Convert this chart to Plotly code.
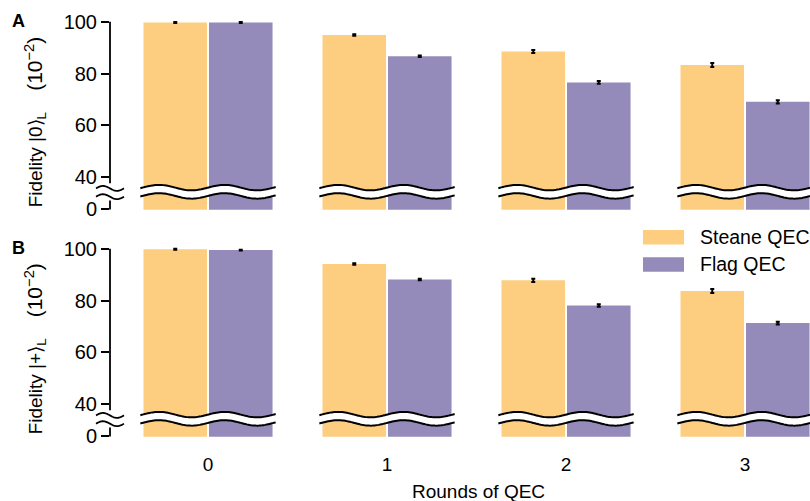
import numpy as np
import plotly.graph_objects as go

# ---- data -------------------------------------------------------------
rounds = [0, 1, 2, 3]
round_labels = ["0", "1", "2", "3"]
series_names = ["Steane QEC", "Flag QEC"]

# logical |0>_L fidelity, units of 1e-2
zero_steane = [99.7, 94.9, 88.5, 83.3]
zero_steane_err = [0.15, 0.3, 0.6, 0.8]
zero_flag = [99.7, 86.7, 76.6, 69.1]
zero_flag_err = [0.15, 0.3, 0.5, 0.6]

# logical |+>_L fidelity, units of 1e-2
plus_steane = [99.8, 94.1, 87.8, 83.7]
plus_steane_err = [0.15, 0.3, 0.6, 0.8]
plus_flag = [99.5, 88.1, 78.1, 71.3]
plus_flag_err = [0.15, 0.3, 0.5, 0.5]

ytick_vals = [40, 60, 80, 100]
ytick_text = ["40", "60", "80", "100"]

# ---- styling ----------------------------------------------------------
W, H = 810, 501
ML = 110                      # left margin = y-axis position (px)
PW = W - ML                   # plot width (px)
STEANE = "#FDCE80"
FLAG = "#948BBA"
FONT = "Liberation Sans, Arial, Helvetica, sans-serif"

Y_FLOOR = 27.6                # value where the broken axis shows "0"
Y_RANGE = [27.5, 102.5]
X_RANGE = [-0.5475, 3.363]
BARGAP = 0.268
BARGROUPGAP = 0.03
SLOT = (1 - BARGAP) / 2       # width of one bar slot in x units

# panel domains (paper fractions, top/bottom margin = 0)
DOMAINS = [[1 - 212.0 / H, 1 - 11.6 / H], [1 - 446.0 / H, 1 - 245.6 / H]]

# break geometry in value units
BRK_TOP, BRK_BOT, BRK_AMP = 36.0, 32.8, 1.05
AX_UPPER_END, AX_LOWER_START = 37.7, 31.0


def py_paper(k, v):
    d0, d1 = DOMAINS[k]
    return d0 + (v - Y_RANGE[0]) / (Y_RANGE[1] - Y_RANGE[0]) * (d1 - d0)


def px_paper(px):
    return (px - ML) / PW


def path_from(xs, ys, close=False):
    pts = " L ".join(f"{x:.5f},{y:.5f}" for x, y in zip(xs, ys))
    return "M " + pts + (" Z" if close else "")


fig = go.Figure()

panels = [
    (zero_steane, zero_steane_err, zero_flag, zero_flag_err),
    (plus_steane, plus_steane_err, plus_flag, plus_flag_err),
]

shapes = []
for k, (s, se, f, fe) in enumerate(panels):
    xa = "x" if k == 0 else "x2"
    ya = "y" if k == 0 else "y2"
    for name, vals, errs, col in [
        (series_names[0], s, se, STEANE),
        (series_names[1], f, fe, FLAG),
    ]:
        fig.add_trace(go.Bar(
            x=rounds, y=vals, name=name, marker=dict(color=col, line=dict(width=0)),
            error_y=dict(type="data", array=errs, color="black", thickness=2, width=2),
            xaxis=xa, yaxis=ya, showlegend=False,
        ))

    # wavy break drawn across each pair of bars
    for i in rounds:
        left = i - SLOT
        xs = np.linspace(left - 0.012, i + SLOT + 0.012, 90)
        ph = np.sin(2 * np.pi * (xs - left) / SLOT)
        top = BRK_TOP + BRK_AMP * ph
        bot = BRK_BOT + BRK_AMP * ph
        band = path_from(np.concatenate([xs, xs[::-1]]),
                         np.concatenate([top, bot[::-1]]), close=True)
        shapes.append(dict(type="path", path=band, xref=xa, yref=ya,
                           fillcolor="white", line=dict(width=0), layer="above"))
        for yy in (top, bot):
            shapes.append(dict(type="path", path=path_from(xs, yy), xref=xa, yref=ya,
                               line=dict(color="black", width=2), layer="above"))

    # broken y-axis line
    x0 = px_paper(ML)
    shapes.append(dict(type="line", xref="paper", yref="paper", x0=x0, x1=x0,
                       y0=py_paper(k, AX_UPPER_END), y1=py_paper(k, 100),
                       line=dict(color="black", width=1.8)))
    shapes.append(dict(type="line", xref="paper", yref="paper", x0=x0, x1=x0,
                       y0=py_paper(k, Y_FLOOR), y1=py_paper(k, AX_LOWER_START),
                       line=dict(color="black", width=1.8)))
    # squiggles on the axis
    sx = np.linspace(96, 124, 40)
    sph = np.sin(2 * np.pi * (sx - 96) / 28.0)
    for c in (BRK_TOP - 0.3, BRK_BOT - 0.3):
        sy = [py_paper(k, c + BRK_AMP * 0.9 * v) for v in sph]
        shapes.append(dict(type="path", path=path_from(px_paper(sx), sy),
                           xref="paper", yref="paper",
                           line=dict(color="black", width=1.8)))

# ---- legend (drawn swatches) -----------------------------------------
annotations = []
for j, (name, col) in enumerate(zip(series_names, [STEANE, FLAG])):
    ytop, ybot = 233 + 28 * j, 248 + 28 * j
    shapes.append(dict(type="rect", xref="paper", yref="paper",
                       x0=px_paper(643), x1=px_paper(684),
                       y0=1 - ybot / H, y1=1 - ytop / H,
                       fillcolor=col, line=dict(width=0)))
    annotations.append(dict(text=name, xref="paper", yref="paper",
                            x=px_paper(698), y=1 - (ytop + ybot) / 2 / H,
                            xanchor="left", yanchor="middle", showarrow=False,
                            font=dict(size=19.5, color="black", family=FONT)))

# axis titles and panel letters
unit = "<span style='font-size:21px'>(10<sup>−2</sup>)</span>"
ytitles = ["Fidelity |0⟩<sub>L</sub>&nbsp;&nbsp;&nbsp;&nbsp;" + unit,
           "Fidelity |+⟩<sub>L</sub>&nbsp;&nbsp;&nbsp;&nbsp;" + unit]
for k, (t, cy, letter, ly) in enumerate(zip(ytitles, [122, 356], ["A", "B"], [18, 252])):
    annotations.append(dict(text=t, xref="paper", yref="paper",
                            x=px_paper(35), y=1 - cy / H, textangle=-90,
                            xanchor="center", yanchor="middle", showarrow=False,
                            font=dict(size=19, color="black", family=FONT)))
    annotations.append(dict(text=f"<b>{letter}</b>", xref="paper", yref="paper",
                            x=px_paper(18), y=1 - ly / H,
                            xanchor="center", yanchor="middle", showarrow=False,
                            font=dict(size=18, color="black", family=FONT)))
annotations.append(dict(text="Rounds of QEC", xref="paper", yref="paper",
                        x=px_paper(478), y=1 - 503 / H,
                        xanchor="center", yanchor="middle", showarrow=False,
                        font=dict(size=19, color="black", family=FONT)))

yaxis_common = dict(
    range=Y_RANGE, tickvals=[Y_FLOOR] + ytick_vals, ticktext=["0"] + ytick_text,
    ticks="outside", ticklen=8, tickwidth=1.8, tickcolor="black",
    showline=False, showgrid=False, zeroline=False,
    tickfont=dict(size=20, color="black", family=FONT),
)
xaxis_common = dict(
    range=X_RANGE, tickvals=rounds, ticktext=round_labels, ticks="",
    showline=False, showgrid=False, zeroline=False,
    tickfont=dict(size=19, color="black", family=FONT),
)

fig.update_layout(
    width=W, height=H,
    margin=dict(l=ML, r=0, t=0, b=0, pad=0),
    paper_bgcolor="white", plot_bgcolor="white",
    barmode="group", bargap=BARGAP, bargroupgap=BARGROUPGAP,
    showlegend=False,
    xaxis=dict(**xaxis_common, anchor="y", showticklabels=False),
    yaxis=dict(**yaxis_common, anchor="x", domain=DOMAINS[0]),
    xaxis2=dict(**xaxis_common, anchor="y2", showticklabels=True,
                ticklabelstandoff=14),
    yaxis2=dict(**yaxis_common, anchor="x2", domain=DOMAINS[1]),
    shapes=shapes, annotations=annotations,
    font=dict(family=FONT, color="black"),
)

fig.write_html("out.html")
